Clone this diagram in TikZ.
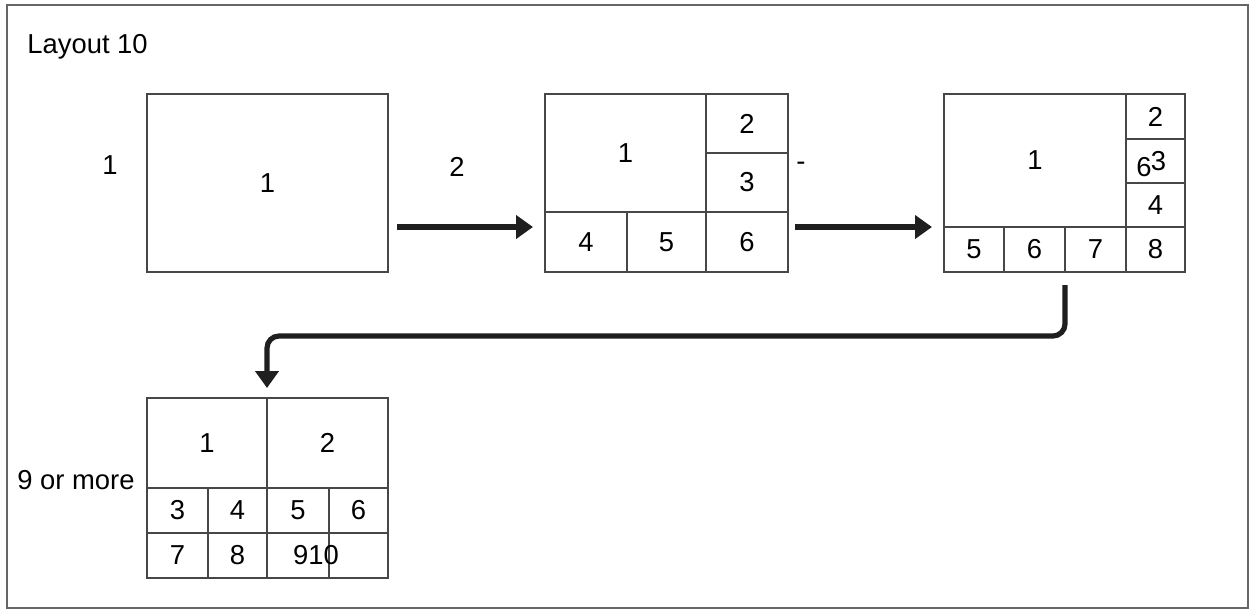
\documentclass[tikz,border=0pt]{standalone}
\usepackage{fontspec}
\setmainfont{Liberation Sans}
\usetikzlibrary{arrows, arrows.meta}

\begin{document}
\begin{tikzpicture}[x=0.5pt, y=-0.5pt,
    cell/.style={rectangle, draw=black!72, line width=0.9pt, inner sep=0pt, outer sep=0pt, font=\fontsize{13.7}{16}\selectfont},
    txt/.style={inner sep=0pt, font=\fontsize{13.7}{16}\selectfont},
    flow/.style={draw=black!88, line width=2.6pt, -{Triangle[length=8.5pt, width=11.5pt]}}]
    \useasboundingbox (0,0) rectangle (1254,612);
    \draw[black!60, line width=0.9pt] (7,5) rectangle (1248,608);

    \node[txt, anchor=west] (title) at (27,47) {Layout 10};

    % one window
    \node[txt] (n1) at (110,165) {1};
    \node[cell, minimum width=120.5pt, minimum height=89pt] (A) at (267.5,183) {1};

    % two to six windows
    \node[txt] (n2) at (457,167) {2};
    \node[cell, minimum width=80.5pt, minimum height=59pt] (B1) at (625.5,153) {1};
    \node[cell, minimum width=41pt, minimum height=29.5pt] (B2) at (747,123.5) {2};
    \node[cell, minimum width=41pt, minimum height=29.5pt] (B3) at (747,182.5) {3};
    \node[cell, minimum width=41pt, minimum height=30pt] (B4) at (586,242) {4};
    \node[cell, minimum width=39.5pt, minimum height=30pt] (B5) at (666.5,242) {5};
    \node[cell, minimum width=41pt, minimum height=30pt] (B6) at (747,242) {6};
    \node[txt] (n3) at (801,166) {-};

    % seven or eight windows
    \node[cell, minimum width=91pt, minimum height=66.5pt] (C1) at (1035,160.5) {1};
    \node[cell, minimum width=29.5pt, minimum height=22.5pt] (C2) at (1155.5,116.5) {2};
    \node[cell, minimum width=29.5pt, minimum height=22pt] (C3) at (1155.5,161) {\hspace*{3pt}3};
    \node[cell, minimum width=29.5pt, minimum height=22pt] (C4) at (1155.5,205) {4};
    \node[cell, minimum width=30pt, minimum height=22.5pt] (C5) at (974,249.5) {5};
    \node[cell, minimum width=30.5pt, minimum height=22.5pt] (C6) at (1034.5,249.5) {6};
    \node[cell, minimum width=30.5pt, minimum height=22.5pt] (C7) at (1095.5,249.5) {7};
    \node[cell, minimum width=29.5pt, minimum height=22.5pt] (C8) at (1155.5,249.5) {8};
    \node[txt] (n4) at (1144,167) {6};

    % nine or more
    \node[txt] (n5) at (76,480) {9 or more};
    \node[cell, minimum width=60pt, minimum height=45pt] (D1) at (207,443) {1};
    \node[cell, minimum width=60.5pt, minimum height=45pt] (D2) at (327.5,443) {2};
    \node[cell, minimum width=30.5pt, minimum height=22.5pt] (D3) at (177.5,510.5) {3};
    \node[cell, minimum width=29.5pt, minimum height=22.5pt] (D4) at (237.5,510.5) {4};
    \node[cell, minimum width=31pt, minimum height=22.5pt] (D5) at (298,510.5) {5};
    \node[cell, minimum width=29.5pt, minimum height=22.5pt] (D6) at (358.5,510.5) {6};
    \node[cell, minimum width=30.5pt, minimum height=22.5pt] (D7) at (177.5,555.5) {7};
    \node[cell, minimum width=29.5pt, minimum height=22.5pt] (D8) at (237.5,555.5) {8};
    \node[cell, minimum width=31pt, minimum height=22.5pt] (D9) at (298,555.5) {};
    \node[cell, minimum width=29.5pt, minimum height=22.5pt] (D10) at (358.5,555.5) {};
    \node[txt] (n6) at (316,555.5) {910};

    \draw[flow] ([xshift=4.5pt, yshift=22.5pt]A.south east) -- ([xshift=-6pt, yshift=-7.5pt]B4.north west);
    \draw[flow] ([xshift=3.5pt, yshift=-7.5pt]B6.north east) -- ([xshift=-6pt]C5.north west);
    \draw[flow, rounded corners=6pt] ([yshift=-6.5pt]C7.south west) -- ++(0,51) -| ([yshift=5pt]D2.north west);
\end{tikzpicture}
\end{document}
